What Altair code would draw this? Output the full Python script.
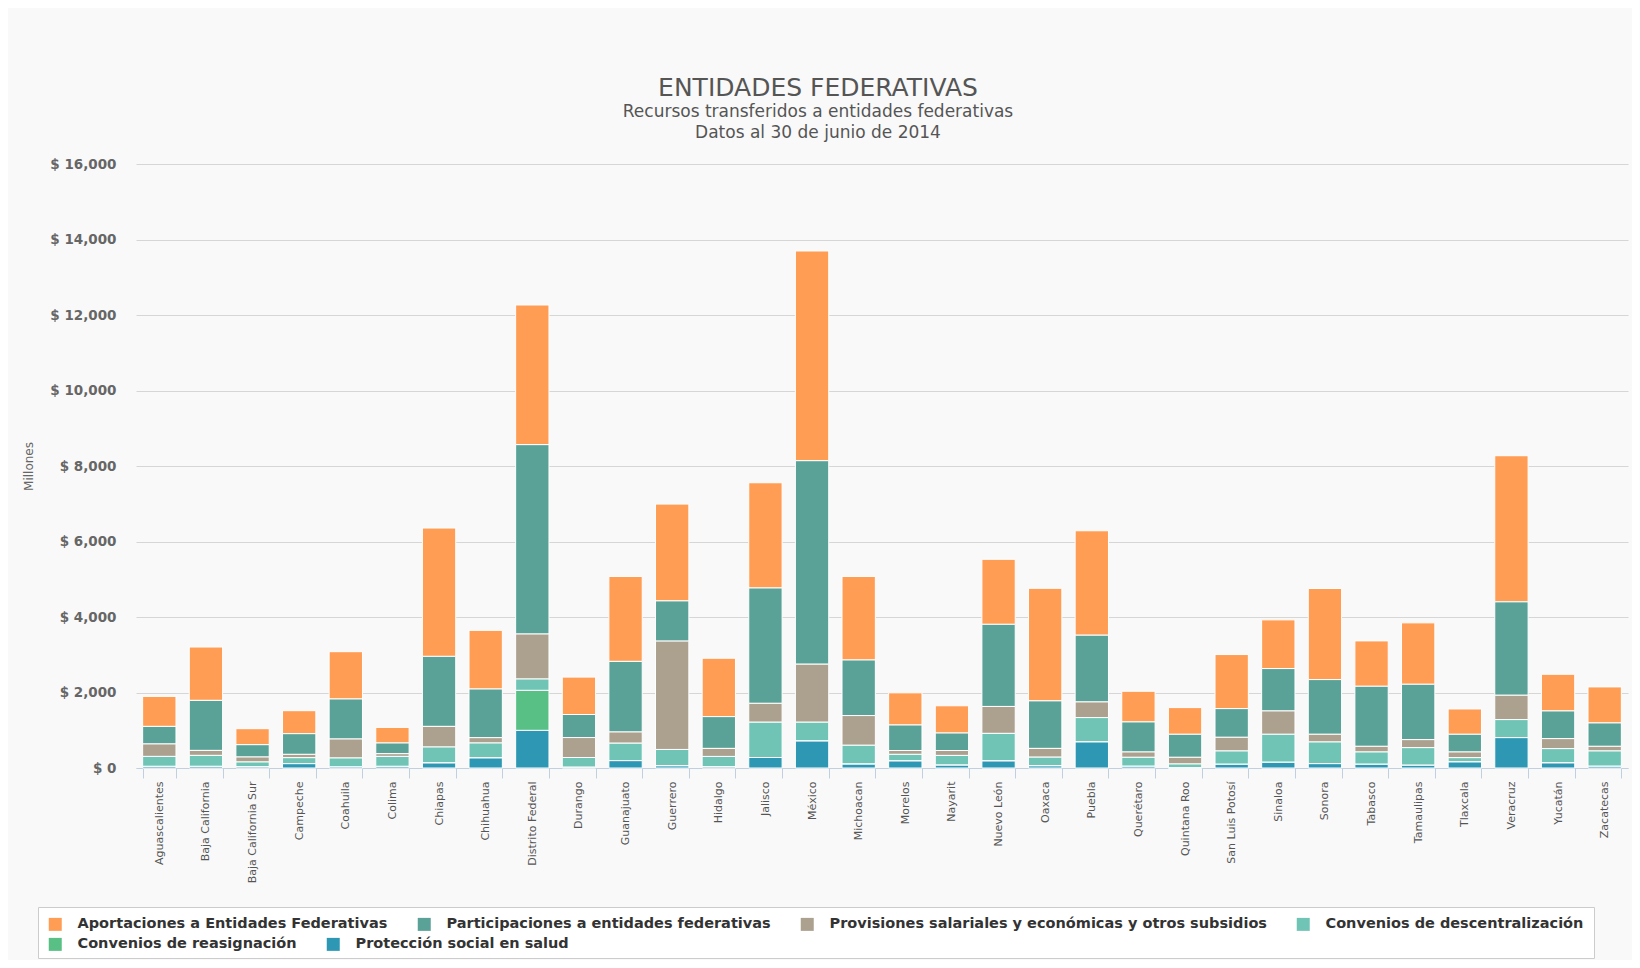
import altair as alt
import pandas as pd

estados = ["Aguascalientes", "Baja California", "Baja California Sur", "Campeche", "Coahuila",
           "Colima", "Chiapas", "Chihuahua", "Distrito Federal", "Durango", "Guanajuato",
           "Guerrero", "Hidalgo", "Jalisco", "México", "Michoacan", "Morelos", "Nayarit",
           "Nuevo León", "Oaxaca", "Puebla", "Querétaro", "Quintana Roo", "San Luis Potosí",
           "Sinaloa", "Sonora", "Tabasco", "Tamaulipas", "Tlaxcala", "Veracruz", "Yucatán",
           "Zacatecas"]

aportaciones = [795, 1414, 424, 609, 1253, 414, 3400, 1554, 3700, 991, 2250, 2565, 1547, 2787,
                5556, 2213, 852, 722, 1722, 2982, 2766, 813, 707, 1432, 1290, 2413, 1202, 1627,
                671, 3871, 972, 955]
participaciones = [465, 1325, 326, 548, 1060, 283, 1855, 1289, 5016, 611, 1870, 1065, 842, 3056,
                   5390, 1472, 676, 463, 2176, 1259, 1768, 796, 610, 760, 1123, 1449, 1591, 1467,
                   469, 2474, 733, 619]
provisiones = [330, 132, 132, 88, 503, 72, 546, 141, 1192, 528, 297, 2870, 213, 500,
               1537, 787, 102, 130, 713, 232, 415, 141, 177, 362, 618, 204, 150, 212,
               150, 645, 265, 123]
descentralizacion = [265, 292, 130, 159, 235, 265, 424, 397, 301, 260, 463, 435, 278, 935,
                     500, 500, 176, 259, 732, 231, 646, 239, 100, 354, 743, 574, 327, 468,
                     115, 478, 380, 407]
reasignacion = [0, 0, 0, 0, 0, 0, 0, 0, 1060, 0, 0, 0, 0, 0,
                0, 0, 0, 0, 0, 0, 0, 0, 0, 0, 0, 0, 0, 0,
                0, 0, 0, 0]
proteccion = [42, 42, 29, 114, 30, 42, 132, 265, 996, 18, 194, 56, 28, 278,
              713, 102, 185, 74, 185, 56, 689, 44, 6, 97, 150, 115, 97, 71,
              159, 804, 133, 44]

series = ["Aportaciones a Entidades Federativas",
          "Participaciones a entidades federativas",
          "Provisiones salariales y económicas y otros subsidios",
          "Convenios de descentralización",
          "Convenios de reasignación",
          "Protección social en salud"]
colores = ["#FF9D55", "#5AA297", "#ACA08F", "#70C4B5", "#58BF85", "#2E98B4"]
valores = [aportaciones, participaciones, provisiones, descentralizacion, reasignacion, proteccion]

rows = []
for si, (s, vals) in enumerate(zip(series, valores)):
    for e, v in zip(estados, vals):
        rows.append({"estado": e, "serie": s, "valor": v, "orden": len(series) - si})
df = pd.DataFrame(rows)

x_enc = alt.X("estado:N", sort=estados,
              scale=alt.Scale(paddingInner=0.285, paddingOuter=0.1425),
              axis=alt.Axis(title=None, labelAngle=-90, labelAlign="right", labelBaseline="middle",
                            labelFontSize=11, labelColor="#555555", labelPadding=3,
                            tickBand="extent", tickColor="#C0D0E0", tickSize=10, tickWidth=1,
                            domainColor="#C0D0E0", domainWidth=1, grid=False, labelLimit=200))
y_enc = alt.Y("y0:Q",
              scale=alt.Scale(domain=[0, 16000], nice=False),
              axis=alt.Axis(title="Millones", values=list(range(0, 16001, 2000)),
                            labelExpr="'$ ' + format(datum.value, ',')",
                            labelFontSize=13.5, labelFontWeight="bold", labelColor="#666666",
                            labelPadding=20, ticks=False, domain=False,
                            gridColor="#D6D6D6", gridWidth=1.2,
                            titleFontSize=12, titleFontWeight="normal", titleColor="#666666",
                            titlePadding=14))

legend_common = dict(orient="none", legendX=-98, direction="horizontal",
                     symbolType="square", symbolSize=169, symbolStrokeWidth=0,
                     labelFontSize=14.5, labelFontWeight="bold", labelColor="#333333",
                     labelOffset=15, labelLimit=0, columnPadding=29, padding=10)

base = alt.Chart(df).transform_stack(
    stack="valor", as_=["y0", "y1"], groupby=["estado"],
    sort=[alt.SortField("orden", order="ascending")]
)

fila1 = base.transform_filter(
    alt.FieldOneOfPredicate(field="serie", oneOf=series[:4])
).mark_bar(stroke="white", strokeWidth=1).encode(
    x=x_enc, y=y_enc, y2="y1:Q",
    color=alt.Color("serie:N", scale=alt.Scale(domain=series[:4], range=colores[:4]),
                    legend=alt.Legend(title=" ", titleOrient="bottom", titleFontSize=14,
                                      titlePadding=3, legendY=743, fillColor="white",
                                      strokeColor="#CCCCCC", zindex=0, **legend_common)),
)

fila2 = base.transform_filter(
    alt.FieldOneOfPredicate(field="serie", oneOf=series[4:])
).mark_bar(stroke="white", strokeWidth=1).encode(
    x=x_enc, y=y_enc, y2="y1:Q",
    color=alt.Color("serie:N", scale=alt.Scale(domain=series[4:], range=colores[4:]),
                    legend=alt.Legend(title=None, legendY=763, zindex=1, **legend_common)),
)

chart = alt.layer(fila1, fila2).resolve_scale(color="independent").properties(
    width=1492,
    height=604,
    title=alt.TitleParams(
        text="ENTIDADES FEDERATIVAS",
        subtitle=["Recursos transferidos a entidades federativas", "Datos al 30 de junio de 2014"],
        fontSize=25, fontWeight="normal", color="#555555",
        subtitleFontSize=17, subtitleColor="#555555", subtitleLineHeight=21,
        subtitlePadding=3, anchor="middle", dx=-64, offset=16),
    autosize=alt.AutoSizeParams(type="none"),
    padding={"left": 128, "top": 156, "right": 4, "bottom": 192},
    background="#F9F9F9",
).configure(font="DejaVu Sans").configure_view(stroke=None)

chart.save("out.html", embed_options={"renderer": "svg", "actions": False})
